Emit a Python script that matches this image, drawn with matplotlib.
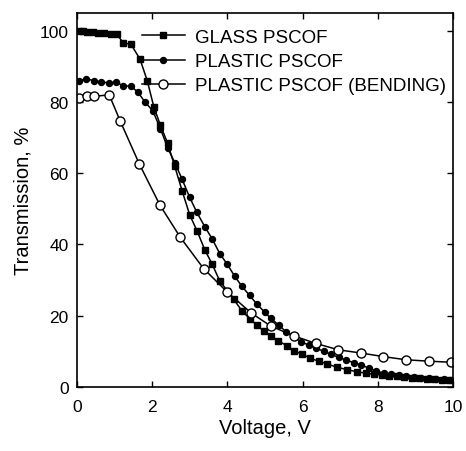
import matplotlib
matplotlib.use("Agg")
import matplotlib.pyplot as plt

plt.rcParams["font.family"] = ["Liberation Sans", "DejaVu Sans"]

# ---------------------------------------------
# DATA
# ---------------------------------------------
glass_v = [0.05, 0.15, 0.27, 0.43, 0.56, 0.72, 0.91, 1.07, 1.23, 1.44, 1.68, 1.87,
           2.05, 2.22, 2.41, 2.6, 2.8, 3.0, 3.2, 3.4, 3.6, 3.8, 4.0, 4.17, 4.39,
           4.61, 4.79, 4.97, 5.15, 5.36, 5.59, 5.77, 5.99, 6.21, 6.43, 6.66, 6.92,
           7.19, 7.46, 7.7, 7.9, 8.1, 8.3, 8.5, 8.7, 8.9, 9.1, 9.3, 9.5, 9.7, 9.9]
glass_t = [100, 100, 99.6, 99.6, 99.4, 99.3, 99.2, 99, 96.6, 96.2, 92, 86,
           78.5, 73.5, 68.5, 62, 55, 48.3, 43.7, 38.5, 34.4, 29.7, 27, 24.6, 21.3,
           19, 17.3, 15.6, 14.3, 12.9, 11.5, 10.1, 9.2, 8, 7.2, 6.4, 5.5,
           4.8, 4.2, 3.8, 3.5, 3.3, 3.1, 2.9, 2.7, 2.6, 2.4, 2.3, 2.1, 2.0, 1.9]

plastic_v = [0.05, 0.25, 0.45, 0.65, 0.85, 1.03, 1.23, 1.44, 1.62, 1.81, 2.02, 2.22,
             2.42, 2.61, 2.79, 3.0, 3.19, 3.4, 3.6, 3.8, 4.0, 4.2, 4.39, 4.59,
             4.79, 4.99, 5.16, 5.37, 5.57, 5.79, 5.96, 6.16, 6.36, 6.56, 6.76,
             6.96, 7.16, 7.36, 7.56, 7.76, 7.96, 8.16, 8.36, 8.56, 8.76, 8.96,
             9.16, 9.36, 9.56, 9.76, 9.92]
plastic_t = [86, 86.5, 86, 85.6, 85.4, 85.6, 84.6, 84.4, 82.8, 80, 77.5, 72.5,
             67, 62.8, 58.5, 53.2, 49, 45, 41.5, 37.4, 34.4, 31, 28.2, 25.7,
             23.2, 21, 19.2, 17.3, 15.4, 13.9, 12.7, 11.7, 10.8, 10, 9.1,
             8.3, 7.5, 6.8, 6.1, 5.3, 4.4, 3.8, 3.5, 3.2, 3.0, 2.8,
             2.6, 2.4, 2.3, 2.1, 2.0]

bend_v = [0.05, 0.26, 0.46, 0.86, 1.15, 1.66, 2.21, 2.75, 3.37, 3.99, 4.64, 5.15,
          5.77, 6.35, 6.95, 7.55, 8.14, 8.75, 9.35, 9.95]
bend_t = [81, 81.6, 81.6, 82, 74.7, 62.6, 51, 42, 33.2, 26.7, 20.7, 17.1,
          14.3, 12.2, 10.4, 9.5, 8.5, 7.6, 7.2, 6.9]

labels = ["GLASS PSCOF", "PLASTIC PSCOF", "PLASTIC PSCOF (BENDING)"]

# ---------------------------------------------
# PLOT
# ---------------------------------------------
fig = plt.figure(figsize=(4.66, 4.52), dpi=100)
ax = fig.add_axes([0.165, 0.142, 0.807, 0.827])

ax.plot(glass_v, glass_t, color="black", lw=1.1, marker="s", ms=3.8,
        mfc="black", mec="black", label=labels[0])
ax.plot(plastic_v, plastic_t, color="black", lw=1.1, marker="o", ms=4.3,
        mfc="black", mec="black", label=labels[1])
ax.plot(bend_v, bend_t, color="black", lw=1.1, marker="o", ms=6.5,
        mfc="white", mec="black", mew=1, label=labels[2])

ax.set_xlim(0, 10)
ax.set_ylim(0, 105)
ax.set_xticks([0, 2, 4, 6, 8, 10])
ax.set_yticks([0, 20, 40, 60, 80, 100])
ax.tick_params(direction="in", top=True, right=True, length=4, width=1,
               labelsize=12.5)
ax.tick_params(axis="x", pad=9)
ax.tick_params(axis="y", pad=6)
for s in ax.spines.values():
    s.set_linewidth(1.2)

ax.set_xlabel("Voltage, V", fontsize=14.5, labelpad=3)
ax.set_ylabel("Transmission, %", fontsize=14.5, labelpad=5)

ax.legend(loc="upper left", bbox_to_anchor=(0.172, 0.958), frameon=False,
          fontsize=13.5, handlelength=2.3, handletextpad=0.55, labelspacing=0.38,
          borderpad=0, borderaxespad=0)

fig.savefig("out.png", dpi=100)
